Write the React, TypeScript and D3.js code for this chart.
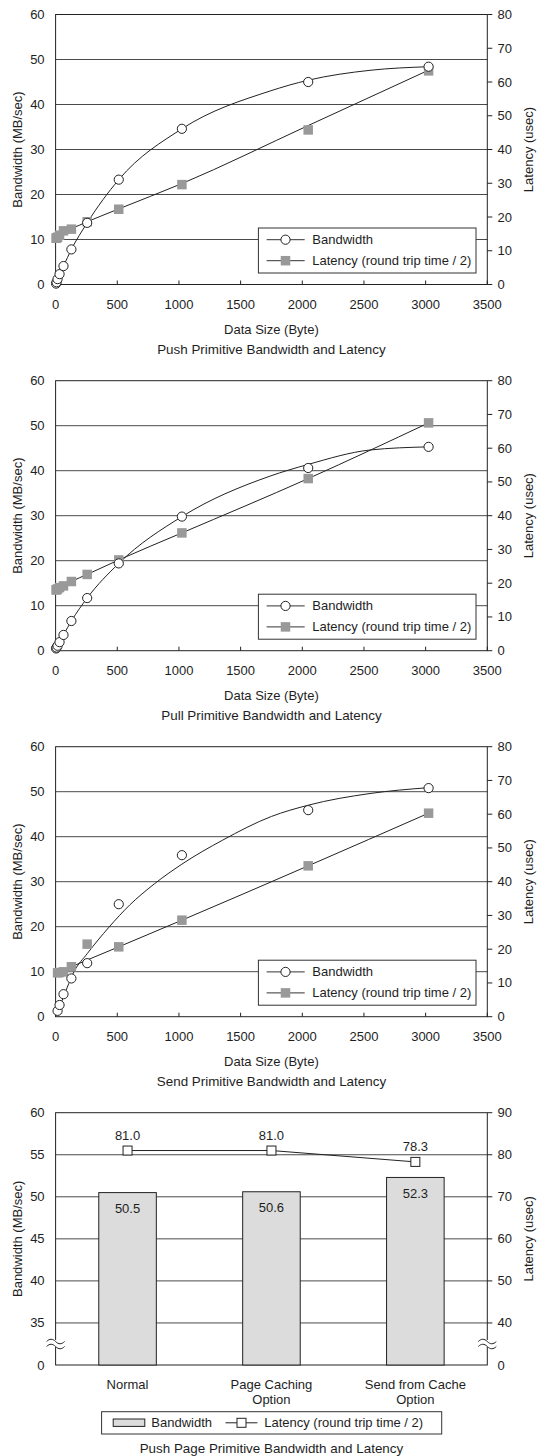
import React from "react";
import * as d3 from "d3";

// ---------- DATA ----------
const sizesA = [4, 8, 16, 32, 64, 128, 256, 512, 1024, 2048, 3024];
const sizesSend = [16, 32, 64, 128, 256, 512, 1024, 2048, 3024];

const pushBandwidth = [0.2, 0.5, 1.2, 2.3, 4.1, 7.8, 13.7, 23.3, 34.6, 45.0, 48.4];
const pushLatency = [13.7, 13.8, 14.0, 14.6, 15.9, 16.4, 18.6, 22.3, 29.6, 45.8, 63.3];
const pushBwTrendX = [4, 16, 32, 64, 128, 256, 512, 1024, 1739, 2048, 2549, 3024];
const pushBwTrendY = [0.2, 1.2, 2.3, 4.1, 7.8, 13.7, 23.3, 34.6, 43.0, 45.4, 47.6, 48.4];
const pushLatTrendX = [4, 32, 64, 128, 256, 512, 1024, 2048, 3024];
const pushLatTrendY = [13.7, 14.6, 15.9, 16.6, 18.6, 22.4, 29.9, 47.1, 63.5];

const pullBandwidth = [0.5, 0.7, 1.1, 1.9, 3.5, 6.6, 11.7, 19.4, 29.8, 40.6, 45.3];
const pullLatency = [18.0, 18.1, 18.3, 18.7, 19.2, 20.5, 22.6, 26.9, 34.9, 51.0, 67.5];
const pullBwTrendX = [4, 8, 16, 32, 64, 128, 256, 512, 1024, 1739, 2048, 2549, 3024];
const pullBwTrendY = [0.5, 0.7, 1.1, 1.9, 3.5, 6.6, 11.7, 19.4, 29.8, 38.8, 41.4, 44.6, 45.3];
const pullLatTrendX = [4, 64, 128, 256, 512, 1024, 2048, 3024];
const pullLatTrendY = [18.0, 19.2, 20.5, 22.6, 26.9, 34.9, 51.0, 67.5];

const sendBandwidth = [1.3, 2.6, 5.0, 8.5, 11.9, 25.0, 35.9, 45.9, 50.8];
const sendLatency = [13.0, 13.1, 13.3, 14.8, 21.5, 20.7, 28.6, 44.7, 60.3];
const sendBwTrendX = [16, 64, 149, 256, 433, 600, 800, 1024, 1352, 1750, 2048, 2549, 3024];
const sendBwTrendY = [1.0, 4.4, 10.0, 14.0, 19.9, 24.8, 29.5, 33.9, 39.2, 44.5, 47.0, 49.6, 50.9];
const sendLatTrendX = [16, 128, 512, 1024, 2048, 3024];
const sendLatTrendY = [13.0, 14.8, 20.7, 28.6, 44.7, 60.3];

const xTicks = [0, 500, 1000, 1500, 2000, 2500, 3000, 3500];
const bwTicks = [0, 10, 20, 30, 40, 50, 60];
const latTicks = [0, 10, 20, 30, 40, 50, 60, 70, 80];

const pageCategories = ["Normal", "Page Caching|Option", "Send from Cache|Option"];
const pageBandwidth = [50.5, 50.6, 52.3];
const pageLatency = [81.0, 81.0, 78.3];
const pageBwTicks = [35, 40, 45, 50, 55, 60];
const pageLatTicks = [40, 50, 60, 70, 80, 90];

const titles = [
  "Push Primitive Bandwidth and Latency",
  "Pull Primitive Bandwidth and Latency",
  "Send Primitive Bandwidth and Latency",
  "Push Page Primitive Bandwidth and Latency",
];

// ---------- STYLE ----------
const FONT = "'Liberation Sans', Arial, Helvetica, sans-serif";
const TXT = "#1e1e1e";
const GRID = "#4a4a4a";
const LEFT = 55.6;
const RIGHT = 487.3;
const FS = 13;
const FT = 13.4;

function zip(xs: number[], ys: number[]) {
  return xs.map((x, i) => [x, ys[i]] as [number, number]);
}

function LineChart(props: {
  top: number;
  sizesBw: number[];
  bw: number[];
  sizesLat: number[];
  lat: number[];
  bwTrendX: number[];
  bwTrendY: number[];
  latTrendX: number[];
  latTrendY: number[];
  title: string;
}) {
  const { top } = props;
  const bottom = top + 270;
  const x = d3.scaleLinear().domain([0, 3500]).range([LEFT, RIGHT]);
  const yL = d3.scaleLinear().domain([0, 60]).range([bottom, top]);
  const yR = d3.scaleLinear().domain([0, 80]).range([bottom, top]);
  const bwLine = d3
    .line<[number, number]>()
    .x((d) => x(d[0]))
    .y((d) => yL(d[1]))
    .curve(d3.curveMonotoneX);
  const latLine = d3
    .line<[number, number]>()
    .x((d) => x(d[0]))
    .y((d) => yR(d[1]))
    .curve(d3.curveMonotoneX);
  const midX = (LEFT + RIGHT) / 2;
  const legTop = bottom - 11.5 - 45;
  const legL = 258.4;
  const legR = 476;
  const sq = 9.5;
  return (
    <g fontFamily={FONT} fill={TXT}>
      {bwTicks.slice(1, -1).map((t) => (
        <line key={"g" + t} x1={LEFT} x2={RIGHT} y1={yL(t)} y2={yL(t)} stroke={GRID} strokeWidth={1} />
      ))}
      <rect x={LEFT} y={top} width={RIGHT - LEFT} height={270} fill="none" stroke="#222" strokeWidth={1} />
      {xTicks.map((t) => (
        <g key={"x" + t}>
          <line x1={x(t)} x2={x(t)} y1={bottom} y2={bottom - 4} stroke="#222" />
          <text x={x(t)} y={bottom + 20} textAnchor="middle" dominantBaseline="central" fontSize={FS}>
            {t}
          </text>
        </g>
      ))}
      {bwTicks.map((t) => (
        <text key={"l" + t} x={LEFT - 11} y={yL(t)} textAnchor="end" dominantBaseline="central" fontSize={FS}>
          {t}
        </text>
      ))}
      {latTicks.map((t) => (
        <g key={"r" + t}>
          <line x1={RIGHT} x2={RIGHT + 5} y1={yR(t)} y2={yR(t)} stroke="#222" />
          <text x={RIGHT + 10.3} y={yR(t)} textAnchor="start" dominantBaseline="central" fontSize={FS}>
            {t}
          </text>
        </g>
      ))}
      <text
        transform={`translate(17.2,${(top + bottom) / 2}) rotate(-90)`}
        textAnchor="middle"
        dominantBaseline="central"
        fontSize={FS}
      >
        Bandwidth (MB/sec)
      </text>
      <text
        transform={`translate(528.5,${(top + bottom) / 2}) rotate(-90)`}
        textAnchor="middle"
        dominantBaseline="central"
        fontSize={FS}
      >
        Latency (usec)
      </text>
      <text x={midX} y={bottom + 44.5} textAnchor="middle" dominantBaseline="central" fontSize={FS}>
        Data Size (Byte)
      </text>
      <text x={midX} y={bottom + 65} textAnchor="middle" dominantBaseline="central" fontSize={FT}>
        {props.title}
      </text>

      <path d={latLine(zip(props.latTrendX, props.latTrendY)) || ""} fill="none" stroke="#222" strokeWidth={1} />
      <path d={bwLine(zip(props.bwTrendX, props.bwTrendY)) || ""} fill="none" stroke="#222" strokeWidth={1} />
      {props.lat.map((v, i) => (
        <rect
          key={"s" + i}
          x={x(props.sizesLat[i]) - sq / 2}
          y={yR(v) - sq / 2}
          width={sq}
          height={sq}
          fill="#999999"
        />
      ))}
      {props.bw.map((v, i) => (
        <circle key={"c" + i} cx={x(props.sizesBw[i])} cy={yL(v)} r={4.6} fill="#fff" stroke="#222" strokeWidth={1} />
      ))}

      <rect x={legL} y={legTop} width={legR - legL} height={45} fill="#fff" stroke="#333" strokeWidth={1} />
      <line x1={266.6} x2={304.7} y1={legTop + 11.7} y2={legTop + 11.7} stroke="#333" />
      <circle cx={285.5} cy={legTop + 11.7} r={4.6} fill="#fff" stroke="#222" />
      <text x={312.3} y={legTop + 11.7} dominantBaseline="central" fontSize={FS}>
        Bandwidth
      </text>
      <line x1={266.6} x2={304.7} y1={legTop + 32.7} y2={legTop + 32.7} stroke="#333" />
      <rect x={285.5 - sq / 2} y={legTop + 32.7 - sq / 2} width={sq} height={sq} fill="#999999" />
      <text x={312.3} y={legTop + 32.7} dominantBaseline="central" fontSize={FS}>
        Latency (round trip time / 2)
      </text>
    </g>
  );
}

function BreakMark({ cx, cy }: { cx: number; cy: number }) {
  const w = (y: number) => `M${cx - 9},${y} c 3,-3 6,-3 9,0 s 6,3 9,0`;
  return (
    <g>
      <rect x={cx - 4} y={cy - 4} width={8} height={7} fill="#fff" />
      <path d={w(cy - 2.5)} fill="none" stroke="#222" strokeWidth={1} />
      <path d={w(cy + 2.5)} fill="none" stroke="#222" strokeWidth={1} />
    </g>
  );
}

function BarChart() {
  const top = 1112.7;
  const bottom = 1365;
  const x = d3.scaleBand<string>().domain(pageCategories).range([LEFT, RIGHT]).paddingInner(0.6).paddingOuter(0.3);
  const yL = d3.scaleLinear().domain([30, 60]).range([bottom, top]);
  const yR = d3.scaleLinear().domain([30, 90]).range([bottom, top]);
  const midX = (LEFT + RIGHT) / 2;
  const line = d3
    .line<number>()
    .x((_, i) => (x(pageCategories[i]) as number) + x.bandwidth() / 2)
    .y((d) => yR(d));
  const sq = 9;
  return (
    <g fontFamily={FONT} fill={TXT}>
      {pageBwTicks.slice(0, -1).map((t) => (
        <line key={"g" + t} x1={LEFT} x2={RIGHT} y1={yL(t)} y2={yL(t)} stroke={GRID} strokeWidth={1} />
      ))}
      <rect x={LEFT} y={top} width={RIGHT - LEFT} height={bottom - top} fill="none" stroke="#222" strokeWidth={1} />
      {pageBwTicks.map((t) => (
        <text key={"l" + t} x={LEFT - 11} y={yL(t)} textAnchor="end" dominantBaseline="central" fontSize={FS}>
          {t}
        </text>
      ))}
      <text x={LEFT - 11} y={yL(30)} textAnchor="end" dominantBaseline="central" fontSize={FS}>
        0
      </text>
      {pageLatTicks.map((t) => (
        <g key={"r" + t}>
          <line x1={RIGHT} x2={RIGHT + 5} y1={yR(t)} y2={yR(t)} stroke="#222" />
          <text x={RIGHT + 10.3} y={yR(t)} dominantBaseline="central" fontSize={FS}>
            {t}
          </text>
        </g>
      ))}
      <text x={RIGHT + 10.3} y={yR(30)} dominantBaseline="central" fontSize={FS}>
        0
      </text>
      <BreakMark cx={LEFT} cy={1344} />
      <BreakMark cx={RIGHT} cy={1344} />

      {pageBandwidth.map((v, i) => {
        const bx = x(pageCategories[i]) as number;
        return (
          <g key={"b" + i}>
            <rect x={bx} y={yL(v)} width={x.bandwidth()} height={bottom - yL(v)} fill="#dcdcdc" stroke="#222" strokeWidth={1} />
            <text x={bx + x.bandwidth() / 2} y={yL(v) + 16} textAnchor="middle" dominantBaseline="central" fontSize={FS}>
              {v.toFixed(1)}
            </text>
          </g>
        );
      })}
      <path d={line(pageLatency) || ""} fill="none" stroke="#222" strokeWidth={1} />
      {pageLatency.map((v, i) => {
        const cx = (x(pageCategories[i]) as number) + x.bandwidth() / 2;
        return (
          <g key={"p" + i}>
            <rect x={cx - sq / 2} y={yR(v) - sq / 2} width={sq} height={sq} fill="#fff" stroke="#222" strokeWidth={1} />
            <text x={cx} y={yR(v) - 15.5} textAnchor="middle" dominantBaseline="central" fontSize={FS}>
              {v.toFixed(1)}
            </text>
          </g>
        );
      })}
      {pageCategories.map((c, i) => {
        const cx = (x(c) as number) + x.bandwidth() / 2;
        return c.split("|").map((ln, j) => (
          <text key={"c" + i + j} x={cx} y={1384.3 + j * 15} textAnchor="middle" dominantBaseline="central" fontSize={FS}>
            {ln}
          </text>
        ));
      })}
      <text
        transform={`translate(17.2,${(top + bottom) / 2}) rotate(-90)`}
        textAnchor="middle"
        dominantBaseline="central"
        fontSize={FS}
      >
        Bandwidth (MB/sec)
      </text>
      <text
        transform={`translate(528.5,${(top + bottom) / 2}) rotate(-90)`}
        textAnchor="middle"
        dominantBaseline="central"
        fontSize={FS}
      >
        Latency (usec)
      </text>

      <rect x={101.6} y={1411.7} width={340.1} height={22.3} fill="#fff" stroke="#333" strokeWidth={1} />
      <rect x={113.2} y={1419} width={31.6} height={7.4} fill="#dcdcdc" stroke="#222" strokeWidth={1} />
      <text x={151.3} y={1422.8} dominantBaseline="central" fontSize={FS}>
        Bandwidth
      </text>
      <line x1={225.5} x2={257.4} y1={1422.8} y2={1422.8} stroke="#222" />
      <rect x={241.5 - sq / 2} y={1422.8 - sq / 2} width={sq} height={sq} fill="#fff" stroke="#222" />
      <text x={264.2} y={1422.8} dominantBaseline="central" fontSize={FS}>
        Latency (round trip time / 2)
      </text>
      <text x={midX} y={1448.3} textAnchor="middle" dominantBaseline="central" fontSize={FT}>
        {titles[3]}
      </text>
    </g>
  );
}

export default function App() {
  return (
    <svg
      width={538}
      height={1456}
      style={{ position: "absolute", left: 0, top: 0, background: "#fff" }}
      xmlns="http://www.w3.org/2000/svg"
    >
      <rect x={0} y={0} width={538} height={1456} fill="#fff" />
      <LineChart
        top={14.5}
        sizesBw={sizesA}
        bw={pushBandwidth}
        sizesLat={sizesA}
        lat={pushLatency}
        bwTrendX={pushBwTrendX}
        bwTrendY={pushBwTrendY}
        latTrendX={pushLatTrendX}
        latTrendY={pushLatTrendY}
        title={titles[0]}
      />
      <LineChart
        top={380.7}
        sizesBw={sizesA}
        bw={pullBandwidth}
        sizesLat={sizesA}
        lat={pullLatency}
        bwTrendX={pullBwTrendX}
        bwTrendY={pullBwTrendY}
        latTrendX={pullLatTrendX}
        latTrendY={pullLatTrendY}
        title={titles[1]}
      />
      <LineChart
        top={746.7}
        sizesBw={sizesSend}
        bw={sendBandwidth}
        sizesLat={sizesSend}
        lat={sendLatency}
        bwTrendX={sendBwTrendX}
        bwTrendY={sendBwTrendY}
        latTrendX={sendLatTrendX}
        latTrendY={sendLatTrendY}
        title={titles[2]}
      />
      <BarChart />
    </svg>
  );
}
